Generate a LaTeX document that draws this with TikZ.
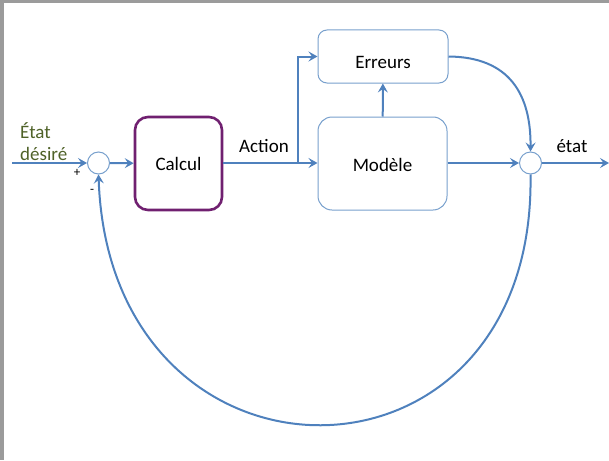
\documentclass[tikz,border=0pt]{standalone}
\usepackage{fontspec}
\setmainfont{Carlito}
\usetikzlibrary{arrows.meta}
\definecolor{wire}{RGB}{79,129,189}
\definecolor{boxline}{RGB}{120,160,205}
\definecolor{calcline}{RGB}{112,32,112}
\definecolor{olive}{RGB}{79,98,40}
\definecolor{frame}{RGB}{155,155,155}
\tikzset{
  wirearr/.style={draw=wire, line width=2pt, -{Stealth[length=9pt,width=10pt,inset=3.5pt]}},
  blockbox/.style={draw=boxline, line width=1pt, fill=white, rounded corners=9pt,
    font=\fontsize{19}{22}\selectfont},
  calcbox/.style={draw=calcline, line width=2.6pt, fill=white, rounded corners=13pt,
    font=\fontsize{19}{22}\selectfont, minimum width=87pt, minimum height=93pt},
  sumnode/.style={circle, draw=boxline, line width=1pt, fill=white, minimum size=22pt, inner sep=0pt},
  lbl/.style={font=\fontsize{19}{22}\selectfont, inner sep=0pt},
  sign/.style={font=\fontsize{13}{15}\selectfont, inner sep=0pt}
}
\begin{document}
\begin{tikzpicture}[x=1pt, y=-1pt]
  \useasboundingbox (0,0) rectangle (609,460);
  % page frame strips
  \fill[frame] (0,0) rectangle (3.5,460);
  \fill[frame] (0,0) rectangle (609,3);

  % blocks
  \node[sumnode] (sum1) at (98.5,163) {};
  \node[calcbox] (calc) at (178.5,163.5) {Calcul};
  \node[blockbox, minimum width=130pt, minimum height=53pt,
        text height=23pt, text depth=0pt] (err) at (383,56.5) {Erreurs};
  \node[blockbox, rounded corners=14pt, minimum width=129pt, minimum height=93pt,
        text height=15pt, text depth=0pt] (mod) at (382.5,163.5) {Modèle};
  \node[sumnode] (sum2) at (530.5,163) {};

  \coordinate (in) at (12,163);
  \coordinate (out) at (609,163);
  \coordinate (split) at (298,163);

  % labels
  \node[lbl, olive, anchor=base west] (lin1) at (20,138.5) {État};
  \node[lbl, olive, anchor=base west] (lin2) at (20,160.5) {désiré};
  \node[sign] (plus) at (77,173) {+};
  \node[sign] (minus) at (92,191) {-};
  \node[lbl, anchor=base] (act) at (264,152) {Action};
  \node[lbl, anchor=base] (st) at (572,152) {état};

  % forward path
  \draw[wirearr] (in) -- (sum1);
  \draw[wirearr] (sum1) -- (calc);
  \draw[wirearr] (calc.east |- split) -- (mod.west |- split);
  \draw[wirearr] (split) |- (err.west);
  \draw[wirearr] (mod) -- (err);
  \draw[wirearr] (mod.east |- sum2) -- (sum2);
  \draw[wirearr] (err.east) .. controls (510,57) and (531,95) .. (sum2.north);
  \draw[wirearr] (sum2) -- (out);

  % feedback loop
  \draw[wirearr] (sum2.south) .. controls (536,508) and (110,508) .. (sum1.south);
\end{tikzpicture}
\end{document}
